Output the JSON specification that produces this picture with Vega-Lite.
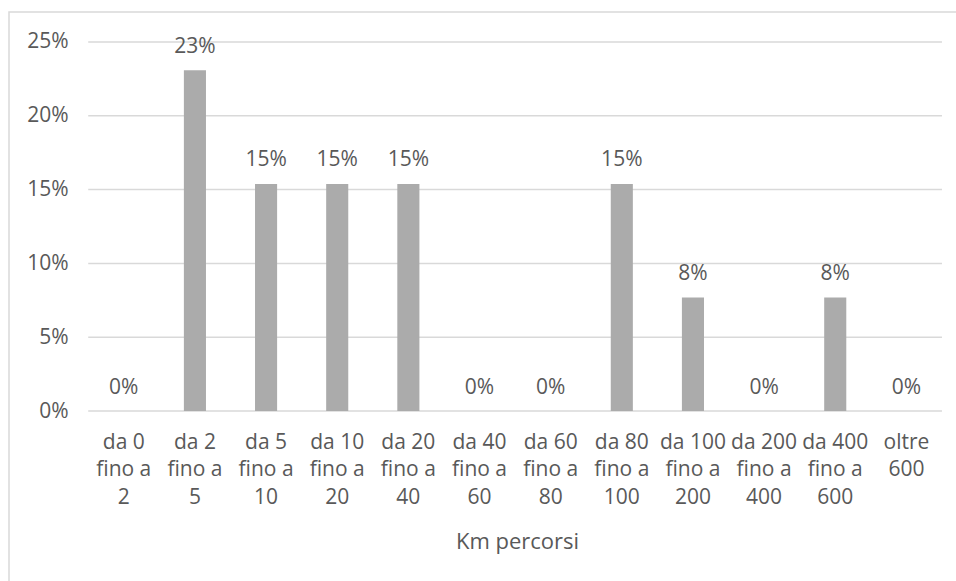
{
  "$schema": "https://vega.github.io/schema/vega-lite/v6.json",
  "width": 947,
  "height": 569,
  "autosize": {"type": "none"},
  "padding": {"left": 9, "top": 12, "right": 0, "bottom": 0},
  "background": "white",
  "config": {
    "font": "Open Sans",
    "view": {"stroke": "#D9D9D9", "strokeWidth": 1.5, "strokeDash": [947, 1516, 569]},
    "axis": {
      "labelFont": "Open Sans",
      "titleFont": "Open Sans",
      "labelColor": "#595959",
      "titleColor": "#595959",
      "labelFontSize": 21,
      "titleFontSize": 22,
      "titleFontWeight": "normal",
      "domain": false,
      "ticks": false,
      "tickSize": 0,
      "grid": false
    }
  },
  "datasets": {
    "distanze": [
      {"km": "da 0 fino a 2", "quota": 0},
      {"km": "da 2 fino a 5", "quota": 0.2308},
      {"km": "da 5 fino a 10", "quota": 0.1538},
      {"km": "da 10 fino a 20", "quota": 0.1538},
      {"km": "da 20 fino a 40", "quota": 0.1538},
      {"km": "da 40 fino a 60", "quota": 0},
      {"km": "da 60 fino a 80", "quota": 0},
      {"km": "da 80 fino a 100", "quota": 0.1538},
      {"km": "da 100 fino a 200", "quota": 0.0769},
      {"km": "da 200 fino a 400", "quota": 0},
      {"km": "da 400 fino a 600", "quota": 0.0769},
      {"km": "oltre 600", "quota": 0}
    ],
    "griglia": [
      {"quota": 0}, {"quota": 0.05}, {"quota": 0.1},
      {"quota": 0.15}, {"quota": 0.2}, {"quota": 0.25}
    ]
  },
  "layer": [
    {
      "data": {"name": "griglia"},
      "mark": {"type": "rule", "color": "#D9D9D9", "strokeWidth": 1.5},
      "encoding": {
        "x": {"datum": "da 0 fino a 2", "type": "nominal", "bandPosition": -1.11},
        "x2": {"datum": "oltre 600", "bandPosition": 2.11},
        "y": {"field": "quota", "type": "quantitative"}
      }
    },
    {
      "data": {"name": "distanze"},
      "mark": {"type": "bar", "color": "#ABABAB"},
      "encoding": {
        "x": {
          "field": "km",
          "type": "nominal",
          "scale": {
            "domain": [
              "da 0 fino a 2", "da 2 fino a 5", "da 5 fino a 10", "da 10 fino a 20",
              "da 20 fino a 40", "da 40 fino a 60", "da 60 fino a 80", "da 80 fino a 100",
              "da 100 fino a 200", "da 200 fino a 400", "da 400 fino a 600", "oltre 600"
            ],
            "paddingInner": 0.6895,
            "paddingOuter": 1.027,
            "align": 0.729
          },
          "axis": {
            "orient": "bottom",
            "offset": -170,
            "labelAngle": 0,
            "labelAlign": "center",
            "labelPadding": 31,
            "labelLineHeight": 27.8,
            "labelOverlap": false,
            "labelBound": false,
            "labelExpr": "indexof(datum.label, ' fino a ') >= 0 ? split(replace(datum.label, ' fino a ', '|fino a|'), '|') : split(datum.label, ' ')",
            "title": "Km percorsi",
            "titleX": 508,
            "titleY": 137,
            "titleBaseline": "alphabetic",
            "titleAnchor": "middle"
          }
        },
        "y": {
          "field": "quota",
          "type": "quantitative",
          "scale": {"domain": [-0.115176, 0.270325], "nice": false, "zero": false},
          "axis": {
            "values": [0, 0.05, 0.1, 0.15, 0.2, 0.25],
            "format": ".0%",
            "offset": -59,
            "labelPadding": 0,
            "title": null
          }
        }
      }
    },
    {
      "data": {"name": "distanze"},
      "mark": {"type": "text", "baseline": "alphabetic", "dy": -17.5, "fontSize": 21, "color": "#595959", "font": "Open Sans"},
      "encoding": {
        "x": {"field": "km", "type": "nominal"},
        "y": {"field": "quota", "type": "quantitative"},
        "text": {"field": "quota", "type": "quantitative", "format": ".0%"}
      }
    }
  ]
}
